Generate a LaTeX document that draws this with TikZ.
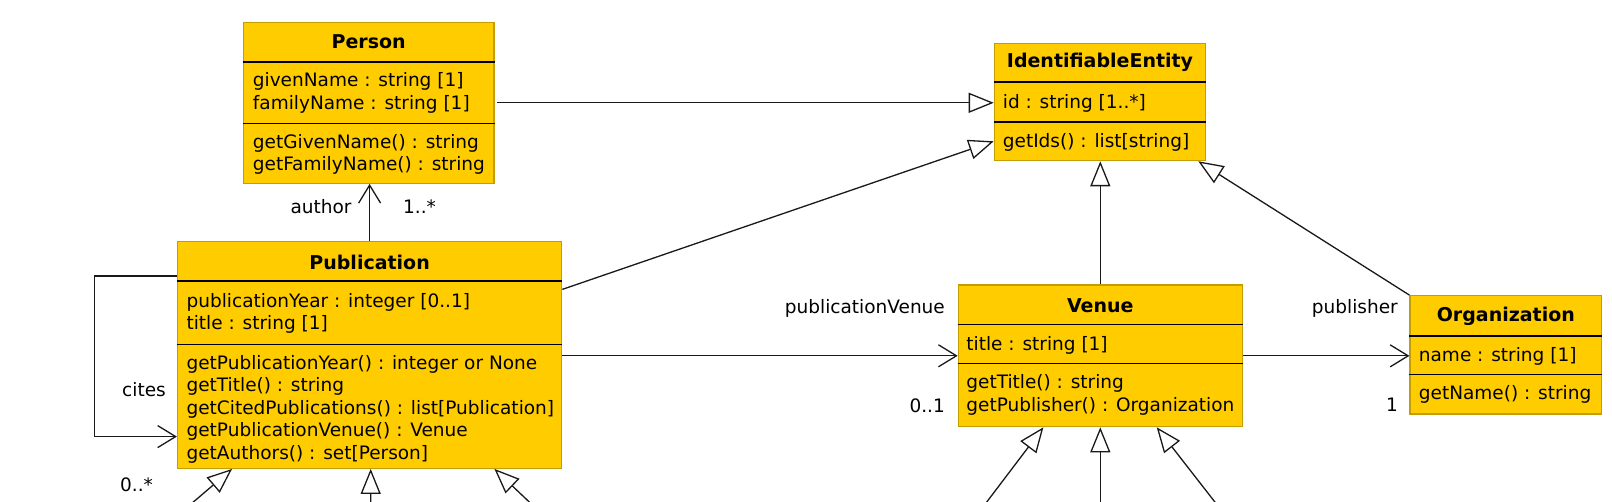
\documentclass[tikz,border=0pt]{standalone}
\usepackage{fontspec}
\setmainfont{DejaVu Sans}
\usetikzlibrary{arrows.meta,calc}
\definecolor{umlfill}{RGB}{255,204,0}
\definecolor{umlborder}{RGB}{196,158,0}
\definecolor{linec}{RGB}{25,25,25}
\tikzset{
  classbox/.style={draw=umlborder, fill=umlfill, line width=1.2pt, inner sep=0pt, rectangle},
  ctitle/.style={font=\fontsize{19}{23}\selectfont\bfseries, inner sep=0pt},
  ctext/.style={font=\fontsize{18.5}{22.6}\selectfont, align=left, anchor=west, inner sep=0pt},
  lbl/.style={font=\fontsize{18.5}{22.6}\selectfont, inner sep=0pt},
  sepline/.style={draw=black, line width=1.7pt},
  conn/.style={draw=linec, line width=1.3pt},
  gen/.style={conn, -{Triangle[length=25pt,width=20pt,fill=white]}},
  nav/.style={conn, -{Straight Barb[length=18pt,width=22pt]}},
}
\begin{document}
\begin{tikzpicture}[x=1pt,y=-1pt]
\clip (0,0) rectangle (1612,502);
\fill[white] (0,0) rectangle (1612,502);

% Person
\node[classbox, minimum width=250.7pt, minimum height=161pt] (person) at (368.65,102.8) {};
\draw[sepline] ($(person.north west)+(0,40)$) -- ($(person.north east)+(0,40)$);
\draw[sepline] ($(person.north west)+(0,101.7)$) -- ($(person.north east)+(0,101.7)$);
\node[ctitle] (personT) at ($(person.north)+(0,19.7)$) {Person};
\node[ctext] (personA) at ($(person.north west)+(10,71)$) {givenName : string [1]\\familyName : string [1]};
\node[ctext] (personM) at ($(person.north west)+(10,132.7)$) {getGivenName() : string\\getFamilyName() : string};

% Publication
\node[classbox, minimum width=384.2pt, minimum height=226.6pt] (pub) at (369.6,355) {};
\draw[sepline] ($(pub.north west)+(0,40)$) -- ($(pub.north east)+(0,40)$);
\draw[sepline] ($(pub.north west)+(0,103.3)$) -- ($(pub.north east)+(0,103.3)$);
\node[ctitle] (pubT) at ($(pub.north)+(0,21)$) {Publication};
\node[ctext] (pubA) at ($(pub.north west)+(9.5,72.2)$) {publicationYear : integer [0..1]\\title : string [1]};
\node[ctext] (pubM) at ($(pub.north west)+(9.5,168)$) {getPublicationYear() : integer or None\\getTitle() : string\\getCitedPublications() : list[Publication]\\getPublicationVenue() : Venue\\getAuthors() : set[Person]};

% IdentifiableEntity
\node[classbox, minimum width=211.4pt, minimum height=117.4pt] (ie) at (1100,102) {};
\draw[sepline] ($(ie.north west)+(0,39.4)$) -- ($(ie.north east)+(0,39.4)$);
\draw[sepline] ($(ie.north west)+(0,79)$) -- ($(ie.north east)+(0,79)$);
\node[ctitle] (ieT) at ($(ie.north)+(0,20)$) {IdentifiableEntity};
\node[ctext] (ieA) at ($(ie.north west)+(9,60.7)$) {id : string [1..*]};
\node[ctext] (ieM) at ($(ie.north west)+(9,100)$) {getIds() : list[string]};

% Venue
\node[classbox, minimum width=284pt, minimum height=141.7pt] (venue) at (1100.3,355.85) {};
\draw[sepline] ($(venue.north west)+(0,40)$) -- ($(venue.north east)+(0,40)$);
\draw[sepline] ($(venue.north west)+(0,79)$) -- ($(venue.north east)+(0,79)$);
\node[ctitle] (venueT) at ($(venue.north)+(0,21)$) {Venue};
\node[ctext] (venueA) at ($(venue.north west)+(8.5,61)$) {title : string [1]};
\node[ctext] (venueM) at ($(venue.north west)+(8.5,110.2)$) {getTitle() : string\\getPublisher() : Organization};

% Organization
\node[classbox, minimum width=191.7pt, minimum height=118.3pt] (org) at (1505.85,354.85) {};
\draw[sepline] ($(org.north west)+(0,41)$) -- ($(org.north east)+(0,41)$);
\draw[sepline] ($(org.north west)+(0,79.3)$) -- ($(org.north east)+(0,79.3)$);
\node[ctitle] (orgT) at ($(org.north)+(0,21.6)$) {Organization};
\node[ctext] (orgA) at ($(org.north west)+(9.3,61.6)$) {name : string [1]};
\node[ctext] (orgM) at ($(org.north west)+(9.3,99.3)$) {getName() : string};

% Generalizations to IdentifiableEntity
\draw[gen] ($(person.east)+(2.5,0)$) -- (person.east -| ie.west);
\draw[gen] ($(pub.north east)+(0,48.3)$) -- ($(ie.south west)+(0,-20)$);
\draw[gen] (venue.north) -- (venue.north |- ie.south);
\draw[gen] (org.north west) -- ($(ie.south east)+(-8,0)$);

% author association
\draw[nav] (pub.north) -- (pub.north |- person.south);
\node[lbl, anchor=east] (authorL) at (351.7,206.7) {author};
\node[lbl, anchor=west] (authorM) at (403,206.7) {1..*};

% cites self association
\coordinate (citeCorner) at ($(pub.south west)+(-82.5,-32.3)$);
\draw[nav] ($(pub.north west)+(0,35)$) -| (citeCorner) -- ($(pub.south west)+(0,-32.3)$);
\node[lbl] (citesL) at (144,389.3) {cites};
\node[lbl] (citesM) at (136.5,485) {0..*};

% publicationVenue
\draw[nav] ($(pub.east)+(0,0.8)$) -- ($(pub.east -| venue.west)+(0,0.8)$);
\node[lbl, anchor=east] (pvL) at (945,308.3) {publicationVenue};
\node[lbl, anchor=east] (pvM) at (945,406) {0..1};

% publisher
\draw[nav] (venue.east) -- (venue.east -| org.west);
\node[lbl, anchor=east] (pbL) at (1398,308.3) {publisher};
\node[lbl, anchor=east] (pbM) at (1398,405) {1};

% Generalizations from below into Publication
\coordinate (pg1) at (172.3,520);
\coordinate (pg2) at (370.7,520);
\coordinate (pg3) at (548.2,520);
\draw[gen] (pg1) -- ($(pub.south west)+(55.2,0)$);
\draw[gen] (pg2) -- ($(pub.south)+(1.1,0)$);
\draw[gen] (pg3) -- ($(pub.south west)+(317.5,0)$);

% Generalizations from below into Venue
\coordinate (vg1) at (973.1,520);
\coordinate (vg2) at (1100.3,520);
\coordinate (vg3) at (1228.9,520);
\draw[gen] (vg1) -- ($(venue.south west)+(85.7,0)$);
\draw[gen] (vg2) -- (venue.south);
\draw[gen] (vg3) -- ($(venue.south west)+(199,0)$);
\end{tikzpicture}
\end{document}
